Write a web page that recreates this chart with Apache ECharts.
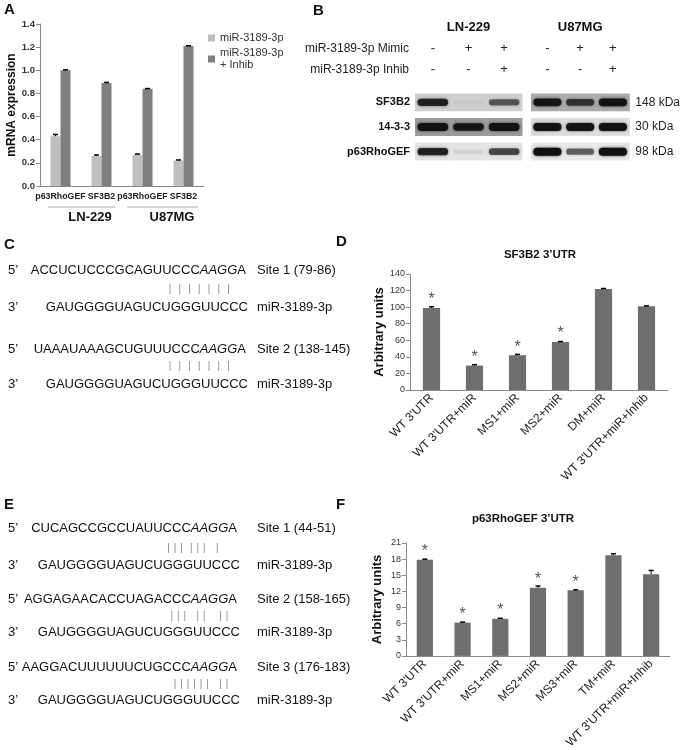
<!DOCTYPE html>
<html>
<head>
<meta charset="utf-8">
<script src="https://cdn.jsdelivr.net/npm/echarts@6/dist/echarts.min.js"></script>
<style>
html, body { margin: 0; padding: 0; background: #fff; }
#main { width: 683px; height: 751px; }
</style>
</head>
<body>
<div id="main"></div>
<script>
var FONT = 'Arial, "Liberation Sans", sans-serif';

// ---- panel A: mRNA expression
var aCats = ['p63RhoGEF', 'SF3B2', 'p63RhoGEF', 'SF3B2'];
var aGroups = ['LN-229', 'U87MG'];
var aNames = ['miR-3189-3p', 'miR-3189-3p\n+ Inhib'];
var aMimic = [0.43, 0.26, 0.27, 0.22];
var aMimicErr = [0.015, 0.008, 0.006, 0.005];
var aInhib = [1.00, 0.89, 0.84, 1.21];
var aInhibErr = [0.004, 0.005, 0.002, 0.002];

// ---- panel B: western blot
var bLanes = ['1', '2', '3'];
var bRowNames = ['miR-3189-3p Mimic', 'miR-3189-3p Inhib'];
var bMimic = ['-', '+', '+'];
var bInhib = ['-', '-', '+'];
var bProteins = ['SF3B2', '14-3-3', 'p63RhoGEF'];
var bWeights = ['148 kDa', '30 kDa', '98 kDa'];
// [lane, protein row, band intensity]
var bandsLN = [[0, 0, 0.85], [1, 0, 0.04], [2, 0, 0.55],
               [0, 1, 0.95], [1, 1, 0.9], [2, 1, 0.95],
               [0, 2, 0.85], [1, 2, 0.08], [2, 2, 0.65]];
var bandsU87 = [[0, 0, 0.9], [1, 0, 0.7], [2, 0, 0.95],
                [0, 1, 0.95], [1, 1, 0.95], [2, 1, 0.95],
                [0, 2, 1.0], [1, 2, 0.55], [2, 2, 1.0]];

// ---- panels C and E: binding sites
var cUtr = ['ACCUCUCCCGCAGUUCCC', 'UAAAUAAAGCUGUUUCCC'];
var cSites = ['Site 1 (79-86)', 'Site 2 (138-145)'];
var cPairs = ['|  |  |  |  |  |  |     ', '|  |  |  |  |  |  |     '];
var eUtr = ['CUCAGCCGCCUAUUCCC', 'AGGAGAACACCUAGACCC', 'AAGGACUUUUUUCUGCCC'];
var eSites = ['Site 1 (44-51)', 'Site 2 (158-165)', 'Site 3 (176-183)'];
var ePairs = ['| | |  | | |   |      ', '| | |   | |    | |   ', '| | | | | |   | |   '];
var seed = 'AAGG';
var mirSeq = 'GAUGGGGUAGUCUGGGUUCCC';
var mirName = 'miR-3189-3p';

// ---- panel D: SF3B2 3'UTR
var dCats = ["WT 3'UTR", "WT 3'UTR+miR", 'MS1+miR', 'MS2+miR', 'DM+miR', "WT 3'UTR+miR+Inhib"];
var dVals = [99, 29.5, 42, 58, 122, 101];
var dErr = [1.5, 1, 1, 0.5, 0.5, 0.5];
var dSig = [1, 1, 1, 1, 0, 0];

// ---- panel F: p63RhoGEF 3'UTR
var fCats = ["WT 3'UTR", "WT 3'UTR+miR", 'MS1+miR', 'MS2+miR', 'MS3+miR', 'TM+miR', "WT 3'UTR+miR+Inhib"];
var fVals = [17.9, 6.2, 6.9, 12.7, 12.2, 18.7, 15.2];
var fErr = [0.1, 0.1, 0.1, 0.3, 0.1, 0.3, 0.7];
var fSig = [1, 1, 1, 1, 1, 0, 0];

function withIndex(vals, errs) {
    var rows = [];
    for (var i = 0; i < vals.length; i++) {
        rows.push([i, vals[i], errs[i]]);
    }
    return rows;
}

function errRender(offset) {
    return function (params, api) {
        var i = api.value(0), v = api.value(1), e = api.value(2);
        var p0 = api.coord([i, v]);
        var p1 = api.coord([i, v + e]);
        var x = p0[0] + offset;
        return {
            type: 'group',
            children: [
                { type: 'line', shape: { x1: x, y1: p0[1], x2: x, y2: p1[1] }, style: { stroke: '#000', lineWidth: 1 } },
                { type: 'line', shape: { x1: x - 2.5, y1: p1[1], x2: x + 2.5, y2: p1[1] }, style: { stroke: '#000', lineWidth: 1.5 } }
            ]
        };
    };
}

function blotRender(bg) {
    return function (params, api) {
        var row = api.value(1), v = api.value(2);
        var c = api.coord([api.value(0), row]);
        var s = api.size([1, 1]);
        var bw = s[0], bh = s[1] * 0.72;
        var th = 4 + 4 * v;
        return {
            type: 'group',
            children: [
                { type: 'rect', shape: { x: c[0] - bw / 2, y: c[1] - bh / 2, width: bw + 0.5, height: bh }, style: { fill: bg[row] } },
                {
                    type: 'rect',
                    shape: { x: c[0] - bw * 0.43, y: c[1] - th / 2, width: bw * 0.86, height: th, r: th / 2 },
                    style: { fill: 'rgba(15,15,15,' + v + ')', shadowBlur: 3, shadowColor: 'rgba(0,0,0,' + (v * 0.7) + ')' }
                }
            ]
        };
    };
}

function laneLabel(v, i) {
    return bMimic[i] + '\n' + bInhib[i];
}

function starLabel(sig) {
    return function (p) { return sig[p.dataIndex] ? '*' : ''; };
}

var seqRich = {
    n: { fontSize: 13, fontFamily: FONT, fill: '#111' },
    i: { fontSize: 13, fontFamily: FONT, fontStyle: 'italic', fill: '#111' }
};

function txt(x, y, text, size, extra) {
    var style = { text: text, x: x, y: y, fill: '#111', font: size + 'px ' + FONT, align: 'left', verticalAlign: 'middle' };
    for (var k in extra) style[k] = extra[k];
    return { type: 'text', silent: true, style: style };
}

// sites block: 5' row, pairing bars, 3' row
function siteBlock(utr, site, pair, y5, yBar, y3, right5, right3) {
    var els = [];
    els.push(txt(8, y5, '5\u2019', 13));
    els.push({ type: 'text', silent: true, style: { text: '{n|' + utr + '}{i|' + seed + '}{n|A}', x: right5, y: y5, align: 'right', verticalAlign: 'middle', rich: seqRich } });
    els.push(txt(257, y5, site, 13));
    var slot = 3.25;
    for (var i = 0; i < pair.length; i++) {
        if (pair[i] === '|') {
            var x = right3 - (pair.length - i) * slot;
            els.push({ type: 'line', silent: true, shape: { x1: x, y1: yBar - 5, x2: x, y2: yBar + 5 }, style: { stroke: '#9a9a9a', lineWidth: 1 } });
        }
    }
    els.push(txt(8, y3, '3\u2019', 13));
    els.push(txt(right3, y3, mirSeq, 13, { align: 'right' }));
    els.push(txt(257, y3, mirName, 13));
    return els;
}

var graphics = [
    txt(4, 10, 'A', 15, { font: 'bold 15px ' + FONT }),
    txt(313, 11, 'B', 15, { font: 'bold 15px ' + FONT }),
    txt(4, 245, 'C', 15, { font: 'bold 15px ' + FONT }),
    txt(336, 242, 'D', 15, { font: 'bold 15px ' + FONT }),
    txt(4, 505, 'E', 15, { font: 'bold 15px ' + FONT }),
    txt(336, 505, 'F', 15, { font: 'bold 15px ' + FONT }),
    txt(409, 49, bRowNames[0], 12, { align: 'right', fill: '#222' }),
    txt(409, 70, bRowNames[1], 12, { align: 'right', fill: '#222' }),
    txt(540, 255, 'SF3B2 3\u2019UTR', 11.5, { align: 'center', font: 'bold 11.5px ' + FONT }),
    txt(523, 519, 'p63RhoGEF 3\u2019UTR', 11.5, { align: 'center', font: 'bold 11.5px ' + FONT }),
    { type: 'line', silent: true, shape: { x1: 48, y1: 207, x2: 115, y2: 207 }, style: { stroke: '#aaa', lineWidth: 1 } },
    { type: 'line', silent: true, shape: { x1: 127, y1: 207, x2: 198, y2: 207 }, style: { stroke: '#aaa', lineWidth: 1 } }
];

var cRows = [[270, 289, 307], [349, 366, 384]];
for (var i = 0; i < cUtr.length; i++) {
    graphics = graphics.concat(siteBlock(cUtr[i], cSites[i], cPairs[i], cRows[i][0], cRows[i][1], cRows[i][2], 246, 248));
}
var eRows = [[528, 548, 565], [599, 616, 632], [667, 684, 700]];
for (var j = 0; j < eUtr.length; j++) {
    graphics = graphics.concat(siteBlock(eUtr[j], eSites[j], ePairs[j], eRows[j][0], eRows[j][1], eRows[j][2], 237, 240));
}

var axisGray = '#8a8a8a';

function valueAxis(grid, max, step, name, gap, fmt) {
    return {
        gridIndex: grid, type: 'value', min: 0, max: max, interval: step,
        axisLine: { show: true, lineStyle: { color: axisGray } },
        axisTick: { show: true, length: 4, lineStyle: { color: axisGray } },
        splitLine: { show: false },
        axisLabel: { fontSize: 9, color: '#333', margin: 5, formatter: fmt },
        name: name, nameLocation: 'middle', nameGap: gap,
        nameTextStyle: { fontSize: 13, fontWeight: 'bold', color: '#111' }
    };
}

function rotCatAxis(grid, cats) {
    return {
        gridIndex: grid, type: 'category', data: cats,
        axisLine: { lineStyle: { color: axisGray } },
        axisTick: { length: 4, lineStyle: { color: axisGray } },
        axisLabel: { interval: 0, rotate: 45, fontSize: 12, color: '#222', margin: 6 }
    };
}

var yA = valueAxis(0, 1.4, 0.2, 'mRNA expression', 21, function (v) { return v.toFixed(1); });
yA.axisLabel.fontWeight = 'bold';
yA.axisLabel.fontSize = 9.5;
yA.nameTextStyle.fontSize = 12;

var option = {
    animation: false,
    backgroundColor: '#fff',
    textStyle: { fontFamily: FONT },
    legend: {
        data: aNames, orient: 'vertical', left: 203, top: 27,
        itemWidth: 7, itemHeight: 7, itemGap: 3, icon: 'rect',
        textStyle: { fontSize: 11, color: '#333', lineHeight: 12 }
    },
    grid: [
        { left: 40, top: 24, width: 164, height: 162 },
        { left: 415, top: 90, width: 107, height: 74 },
        { left: 531, top: 90, width: 107, height: 74 },
        { left: 410, top: 274, width: 258, height: 116 },
        { left: 406, top: 543, width: 264, height: 116 }
    ],
    xAxis: [
        {
            gridIndex: 0, type: 'category', data: aCats,
            axisLine: { lineStyle: { color: axisGray } },
            axisTick: { interval: 1, length: 4, lineStyle: { color: axisGray } },
            axisLabel: { interval: 0, fontSize: 8.8, fontWeight: 'bold', color: '#222', margin: 6 }
        },
        {
            gridIndex: 0, type: 'category', data: aGroups, position: 'bottom', offset: 17,
            axisLine: { show: false }, axisTick: { show: false },
            axisLabel: { fontSize: 13, fontWeight: 'bold', color: '#111', padding: [0, 0, 0, 18] }
        },
        {
            gridIndex: 1, type: 'category', data: bLanes, position: 'top',
            axisLine: { show: false }, axisTick: { show: false },
            axisLabel: { formatter: laneLabel, fontSize: 13, lineHeight: 21, color: '#222', margin: 10 },
            name: 'LN-229', nameLocation: 'middle', nameGap: 56,
            nameTextStyle: { fontSize: 13, fontWeight: 'bold', color: '#111' }
        },
        {
            gridIndex: 2, type: 'category', data: bLanes, position: 'top',
            axisLine: { show: false }, axisTick: { show: false },
            axisLabel: { formatter: laneLabel, fontSize: 13, lineHeight: 21, color: '#222', margin: 10 },
            name: 'U87MG', nameLocation: 'middle', nameGap: 56,
            nameTextStyle: { fontSize: 13, fontWeight: 'bold', color: '#111' }
        },
        rotCatAxis(3, dCats),
        rotCatAxis(4, fCats)
    ],
    yAxis: [
        yA,
        {
            gridIndex: 1, type: 'category', data: bProteins, inverse: true,
            axisLine: { show: false }, axisTick: { show: false },
            axisLabel: { fontSize: 11, fontWeight: 'bold', color: '#111', margin: 5 }
        },
        {
            gridIndex: 2, type: 'category', data: bProteins, inverse: true, position: 'right',
            axisLine: { show: false }, axisTick: { show: false },
            axisLabel: { fontSize: 12, color: '#222', margin: 6, formatter: function (v, i) { return bWeights[i]; } }
        },
        valueAxis(3, 140, 20, 'Arbitrary units', 24),
        valueAxis(4, 21, 3, 'Arbitrary units', 22)
    ],
    series: [
        { name: aNames[0], type: 'bar', xAxisIndex: 0, yAxisIndex: 0, data: aMimic, barWidth: 10, barGap: '0%', itemStyle: { color: '#bfbfbf' } },
        { name: aNames[1], type: 'bar', xAxisIndex: 0, yAxisIndex: 0, data: aInhib, barWidth: 10, barGap: '0%', itemStyle: { color: '#7f7f7f' } },
        { type: 'custom', xAxisIndex: 0, yAxisIndex: 0, z: 5, renderItem: errRender(-5), data: withIndex(aMimic, aMimicErr) },
        { type: 'custom', xAxisIndex: 0, yAxisIndex: 0, z: 5, renderItem: errRender(5), data: withIndex(aInhib, aInhibErr) },
        { type: 'custom', xAxisIndex: 2, yAxisIndex: 1, renderItem: blotRender(['#cfcfcf', '#9c9c9c', '#e3e3e3']), data: bandsLN },
        { type: 'custom', xAxisIndex: 3, yAxisIndex: 2, renderItem: blotRender(['#ababab', '#dedede', '#e8e8e8']), data: bandsU87 },
        {
            type: 'bar', xAxisIndex: 4, yAxisIndex: 3, data: dVals, barWidth: '40%', itemStyle: { color: '#6e6e6e' },
            label: { show: true, position: 'top', distance: 0, formatter: starLabel(dSig), fontSize: 16, color: '#555' }
        },
        { type: 'custom', xAxisIndex: 4, yAxisIndex: 3, z: 5, renderItem: errRender(0), data: withIndex(dVals, dErr) },
        {
            type: 'bar', xAxisIndex: 5, yAxisIndex: 4, data: fVals, barWidth: '43%', itemStyle: { color: '#6e6e6e' },
            label: { show: true, position: 'top', distance: 0, formatter: starLabel(fSig), fontSize: 16, color: '#555' }
        },
        { type: 'custom', xAxisIndex: 5, yAxisIndex: 4, z: 5, renderItem: errRender(0), data: withIndex(fVals, fErr) }
    ],
    graphic: graphics
};

var chart = echarts.init(document.getElementById('main'), null, { renderer: 'canvas' });
chart.setOption(option);
</script>
</body>
</html>
